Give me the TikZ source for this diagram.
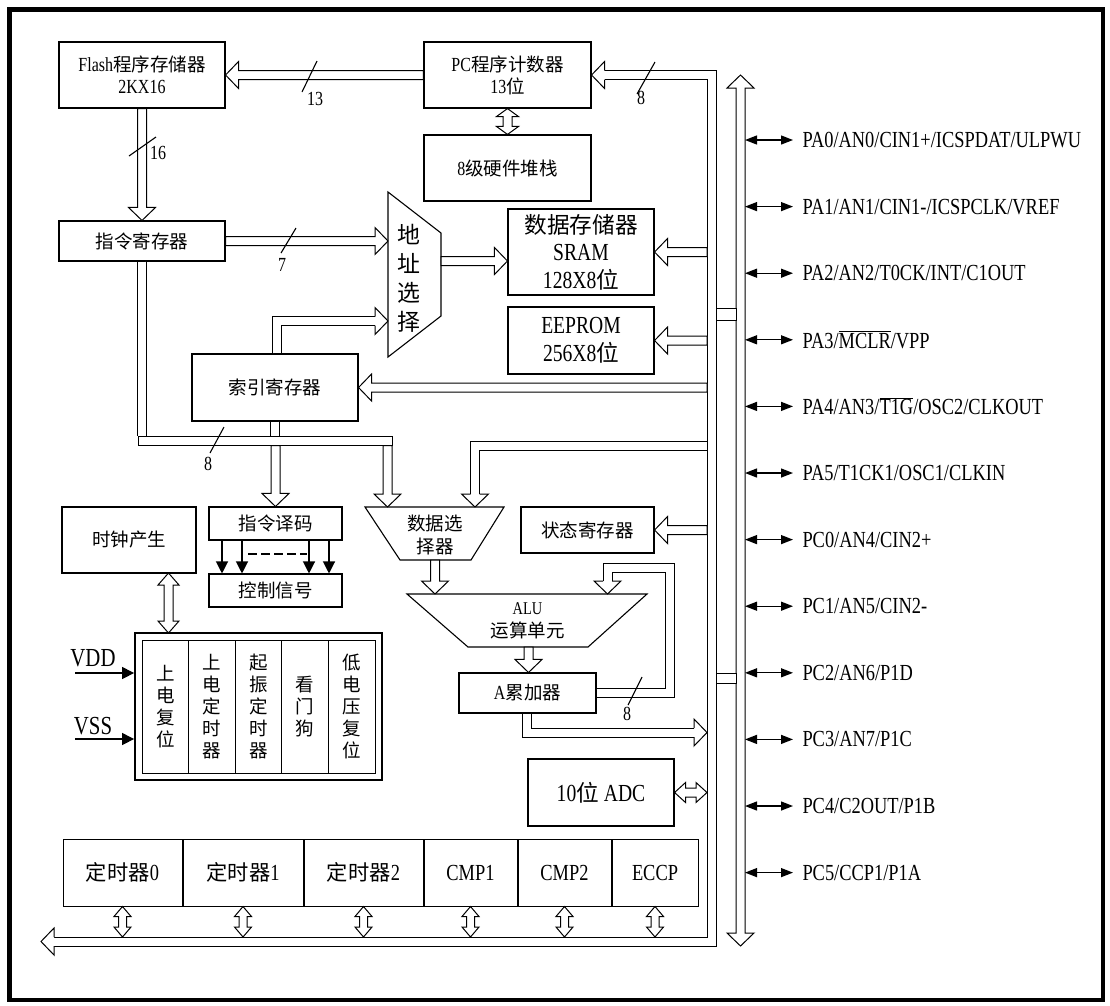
\documentclass[tikz,border=0pt]{standalone}
\usepackage{fontspec}
\setmainfont[FakeStretch=0.8]{Liberation Serif}
\newfontfamily\zh[Scale=0.925]{Noto Sans CJK SC}
\newcommand\hz[1]{{\zh #1}}
\newcommand\fsA{\fontsize{20}{22}\selectfont}
\newcommand\fsB{\fontsize{24.5}{27.5}\selectfont}
\newcommand\fsW{\fontsize{20}{24}\selectfont}
\newcommand\fsP{\fontsize{23}{27}\selectfont}
\usepackage{tikz}
\usetikzlibrary{arrows.meta,positioning,calc}
\tikzset{
  blk/.style={draw,line width=1.1pt,inner sep=0pt,align=center,font=\fsA},
  big/.style={blk,font=\fsB},
  cell/.style={draw,line width=1pt,minimum width=46.6,minimum height=133,inner sep=0pt,align=center,font=\fsA\zh},
  tbox/.style={draw,line width=1pt,minimum height=67,inner sep=0pt,font=\fontsize{23}{26}\selectfont},
  bus/.style={draw,line width=1pt,double=white,double distance=8pt},
  busfill/.style={draw,line width=1pt,fill=white},
  sig/.style={line width=1.2pt,-{Triangle[length=12pt,width=12pt]}},
  pinar/.style={line width=1.3pt,{Triangle[length=12pt,width=9pt]}-{Triangle[length=12pt,width=9pt]}},
  pinlbl/.style={anchor=west,inner sep=0pt,font=\fsP},
  lbl/.style={inner sep=0pt,font=\fsW},
  wmark/.style={line width=1.1pt},
}
\pgfkeys{/bus/.cd,hw/.store in=\bhw,hl/.store in=\bhl,sw/.store in=\bsw,hw=13.5pt,hl=13pt,sw=4.5pt}
\newcommand\busar[3][]{%
  \begingroup\pgfkeys{/bus/.cd,#1}%
  \path ($(#3)!\bhl!(#2)$) coordinate (hb);
  \filldraw[busfill] ($(#2)!\bsw!90:(#3)$) -- ($(hb)!\bsw!90:(#3)$)
    -- ($(hb)!\bhw!90:(#3)$) -- (#3) -- ($(hb)!\bhw!-90:(#3)$)
    -- ($(hb)!\bsw!-90:(#3)$) -- ($(#2)!\bsw!-90:(#3)$) -- cycle;
  \endgroup}
\newcommand\bushd[3][]{%
  \begingroup\pgfkeys{/bus/.cd,#1}%
  \path ($(#3)!\bhl!(#2)$) coordinate (hb);
  \filldraw[busfill] ($(hb)!\bsw!90:(#3)$) -- ($(hb)!\bhw!90:(#3)$) -- (#3)
    -- ($(hb)!\bhw!-90:(#3)$) -- ($(hb)!\bsw!-90:(#3)$);
  \endgroup}
\newcommand\busdar[3][]{%
  \begingroup\pgfkeys{/bus/.cd,#1}%
  \path ($(#2)!\bhl!(#3)$) coordinate (ha) ($(#3)!\bhl!(#2)$) coordinate (hb);
  \filldraw[busfill] (#2) -- ($(ha)!\bhw!90:(#3)$) -- ($(ha)!\bsw!90:(#3)$)
    -- ($(hb)!\bsw!-90:(#2)$) -- ($(hb)!\bhw!-90:(#2)$) -- (#3)
    -- ($(hb)!\bhw!90:(#2)$) -- ($(hb)!\bsw!90:(#2)$)
    -- ($(ha)!\bsw!-90:(#3)$) -- ($(ha)!\bhw!-90:(#3)$) -- cycle;
  \endgroup}

\begin{document}
\begin{tikzpicture}[x=1pt,y=-1pt,line width=1pt]
  \useasboundingbox (0,0) rectangle (1110,1005);
  \draw[line width=4.5pt] (9.5,9.5) rectangle (1103,1000);

  \node[blk,minimum width=166,minimum height=66] (flash) at (142,75) {Flash\hz{程序存储器}\\2KX16};
  \node[blk,minimum width=167,minimum height=66] (pc) at (507.5,75) {PC\hz{程序计数器}\\13\hz{位}};
  \node[blk,minimum width=167,minimum height=66] (stack) at (507.5,168) {8\hz{级硬件堆栈}};
  \node[big,minimum width=146,minimum height=86] (sram) at (581,252) {\hz{数据存储器}\\SRAM\\128X8\hz{位}};
  \node[big,minimum width=146,minimum height=67] (eeprom) at (581,340.5) {EEPROM\\256X8\hz{位}};
  \node[blk,minimum width=166,minimum height=40] (ir) at (142,241) {\hz{指令寄存器}};
  \node[blk,minimum width=166,minimum height=67] (ix) at (275,387.5) {\hz{索引寄存器}};
  \node[blk,minimum width=134,minimum height=66] (clk) at (129,540) {\hz{时钟产生}};
  \node[blk,minimum width=133,minimum height=33] (dec) at (275.5,523.5) {\hz{指令译码}};
  \node[blk,minimum width=133,minimum height=33] (ctl) at (275.5,590.5) {\hz{控制信号}};
  \node[blk,minimum width=133,minimum height=46] (st) at (587.5,530) {\hz{状态寄存器}};
  \node[blk,minimum width=137,minimum height=40] (acc) at (527.5,693) {A\hz{累加器}};
  \node[big,minimum width=146,minimum height=67] (adc) at (601,792.5) {10\hz{位} ADC};

  \draw[line width=1.1pt] (388,192) -- (441,233) -- (441,316) -- (388,357) -- cycle;
  \node[align=center,inner sep=0pt,font=\fontsize{24.8}{29}\selectfont\zh] (asel) at (409,278) {地\\址\\选\\择};
  \draw[line width=1.1pt] (365,507) -- (504,507) -- (471,560) -- (400,560) -- cycle;
  \node[align=center,inner sep=0pt,font=\fontsize{20}{23}\selectfont\zh] (dsel) at (435,534.5) {数据选\\择器};
  \draw[line width=1.1pt] (407,594) -- (647,594) -- (588,647) -- (468,647) -- cycle;
  \node[align=center,inner sep=0pt,font=\fontsize{20}{23}\selectfont] (alu) at (527.5,620.5) {\fontsize{18}{23}\selectfont ALU\\\hz{运算单元}};

  \node[draw,line width=1.8pt,minimum width=247,minimum height=147,inner sep=0pt] (rst) at (258.5,706.5) {};
  \foreach \t [count=\i from 0] in {{上\\电\\复\\位},{上\\电\\定\\时\\器},{起\\振\\定\\时\\器},{看\\门\\狗},{低\\电\\压\\复\\位}}
    \node[cell] (c\i) at ({165.3+46.6*\i},706.5) {\t};

  \node[tbox,minimum width=119] (t0) at (122.5,872.5) {\hz{定时器}0};
  \node[tbox,minimum width=120,right=0pt of t0] (t1) {\hz{定时器}1};
  \node[tbox,minimum width=119,right=0pt of t1] (t2) {\hz{定时器}2};
  \node[tbox,minimum width=93,right=0pt of t2] (t3) {CMP1};
  \node[tbox,minimum width=93,right=0pt of t3] (t4) {CMP2};
  \node[tbox,minimum width=86,right=0pt of t4] (t5) {ECCP};

  \node[draw,line width=1pt,minimum width=254,minimum height=9,inner sep=0pt] (hbar) at (265,440.5) {};

  \coordinate (ibtop) at (711.5,75);
  \coordinate (ibbot) at (711.5,941.5);
  \coordinate (ibl) at (707,0);
  \coordinate (bbtip) at (41,941.5);
  \coordinate (bbtop) at (0,937);
  \coordinate (iotop) at (740.5,75);
  \coordinate (iobot) at (740.5,946);
  \coordinate (ior) at (745,0);
  \coordinate (asin1) at (388,241);
  \coordinate (asin2) at (388,321);
  \coordinate (asout) at (441,261);
  \coordinate (ixup) at (276.5,321);
  \coordinate (dsin1) at (387.5,507);
  \coordinate (dsin2) at (475,507);
  \coordinate (dsc) at (475,445.5);
  \coordinate (dsout) at (435,560);
  \coordinate (aluin1) at (435,594);
  \coordinate (aluin2) at (607.5,594);
  \coordinate (aluout) at (528.5,647);
  \coordinate (fbc) at (669.5,567.5);
  \coordinate (acd) at (526.5,732.5);
  \coordinate (ck1) at (168.5,573);
  \coordinate (ck2) at (168.5,633);
  \coordinate (vddin) at (75,673);
  \coordinate (vssin) at (75,739);

  \draw[bus,shorten <=13pt,shorten >=13pt] (pc.east) -- (ibtop) -- (ibbot) -- (bbtip);
  \draw[bus] (ir.south) -- (ir.south |- hbar.north);
  \draw[bus] (ix.south) -- (ix.south |- hbar.north);
  \draw[bus,shorten >=13pt] (ix.north -| ixup) -- (ixup) -- (asin2);
  \draw[bus,shorten >=13pt] (dsc -| ibl) -- (dsc) -- (dsin2);
  \draw[bus,shorten >=13pt] (acc.east) -- (acc.east -| fbc) -- (fbc) -- (fbc -| aluin2) -- (aluin2);
  \draw[bus,shorten >=13pt] (acc.south -| acd) -- (acd) -- (acd -| ibl);
  \bushd{ibtop}{pc.east}
  \bushd{ibbot}{bbtip}
  \bushd{ixup}{asin2}
  \bushd{dsc}{dsin2}
  \bushd{fbc -| aluin2}{aluin2}
  \bushd{acd}{acd -| ibl}

  \busar{pc.west}{flash.east}
  \busar{flash.south}{ir.north}
  \busar{ir.east}{asin1}
  \busar{asout}{asout -| sram.west}
  \busar{sram.east -| ibl}{sram.east}
  \busar{eeprom.east -| ibl}{eeprom.east}
  \busar{ix.east -| ibl}{ix.east}
  \busar{st.east -| ibl}{st.east}
  \busar{dec.north |- hbar.south}{dec.north}
  \busar{dsin1 |- hbar.south}{dsin1}
  \busar{dsout}{aluin1}
  \busar{aluout}{aluout |- acc.north}

  \busdar[hw=11pt,hl=8pt]{pc.south}{stack.north}
  \busdar[hw=10.5pt,hl=12pt]{ck1}{ck2}
  \busdar[hw=10pt,hl=11pt]{adc.east}{adc.east -| ibl}
  \foreach \i in {0,...,5}{\busdar[hw=8.5pt,hl=10pt,sw=4pt]{t\i.south}{t\i.south |- bbtop}}
  \busdar{iotop}{iobot}
  \draw[fill=white] (716,308) rectangle (736,320);
  \draw[fill=white] (716,673) rectangle (736,683);

  \draw[wmark] (302,92) -- (317,61);
  \node[lbl] (w13) at (315,99) {13};
  \draw[wmark] (129,156) -- (156,137);
  \node[lbl] (w16) at (158,153) {16};
  \draw[wmark] (637,94) -- (655,62);
  \node[lbl] (w8a) at (641,98) {8};
  \draw[wmark] (281,253) -- (296,228);
  \node[lbl] (w7) at (282,265) {7};
  \draw[wmark] (210,453) -- (224,427);
  \node[lbl] (w8b) at (208,464) {8};
  \draw[wmark] (628,705) -- (642,677);
  \node[lbl] (w8c) at (627,714) {8};

  \foreach \dx in {-53.5,-33.5,33.5,53.5}
    \draw[sig] ([xshift=\dx]dec.south) -- ([xshift=\dx]ctl.north);
  \draw[line width=2pt,dash pattern=on 9pt off 4pt] ($(dec.south)+(-27.5,13)$) -- ($(dec.south)+(31.5,13)$);

  \node[inner sep=0pt,font=\fontsize{26}{30}\selectfont] (vdd) at (93,658) {VDD};
  \node[inner sep=0pt,font=\fontsize{26}{30}\selectfont] (vss) at (93,726) {VSS};
  \draw[sig] (vddin) -- (vddin -| rst.west);
  \draw[sig] (vssin) -- (vssin -| rst.west);

  \foreach \t [count=\i from 0] in {PA0/AN0/CIN1+/ICSPDAT/ULPWU,PA1/AN1/CIN1-/ICSPCLK/VREF,
      PA2/AN2/T0CK/INT/C1OUT,{PA3/$\overline{\hbox{MCLR}}$/VPP},{PA4/AN3/$\overline{\hbox{T1G}}$/OSC2/CLKOUT},
      PA5/T1CK1/OSC1/CLKIN,PC0/AN4/CIN2+,PC1/AN5/CIN2-,PC2/AN6/P1D,PC3/AN7/P1C,PC4/C2OUT/P1B,PC5/CCP1/P1A}{
    \node[pinlbl] (p\i) at (802,{140+66.6*\i}) {\t};
    \draw[pinar,shorten >=9pt] (p\i.west -| ior) -- (p\i.west);
  }
\end{tikzpicture}
\end{document}
